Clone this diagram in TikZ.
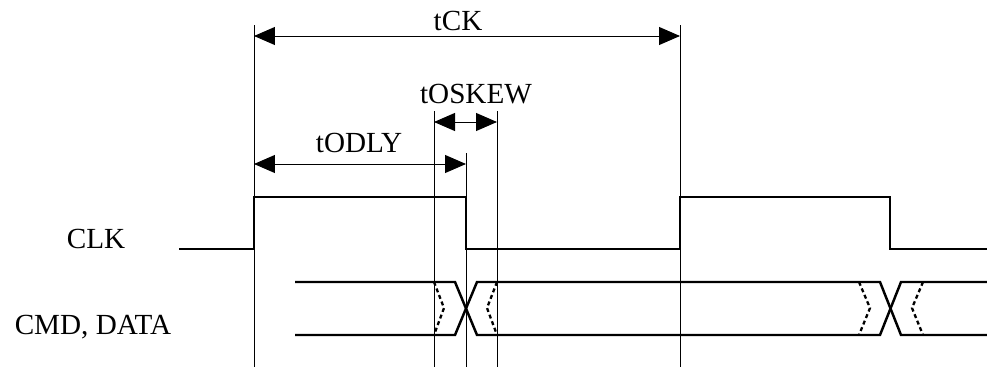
\documentclass[tikz,border=0pt]{standalone}
\usepackage{fontspec}
\setmainfont{Liberation Serif}
\usetikzlibrary{arrows.meta}

\begin{document}
\begin{tikzpicture}[x=0.02cm,y=-0.02cm,
		sig/.style={line width=1.4pt,line join=miter},
		guide/.style={line width=0.55pt},
		dim/.style={line width=0.55pt,{Triangle[length=0.42cm,width=0.36cm]}-{Triangle[length=0.42cm,width=0.36cm]}},
		skew/.style={line width=1.3pt,dash pattern=on 0.08cm off 0.06cm},
		lbl/.style={anchor=base,inner sep=0pt,font=\fontsize{16.6}{20}\selectfont}]
	\useasboundingbox (0,0) rectangle (987,372);
	%Vertical guide lines
	\foreach \name/\x/\top in {ga/254/25, gb/434/111, gc/466/153, gd/497/111, ge/680/25} {
		\coordinate (\name top) at (\x,\top);
		\coordinate (\name bot) at (\x,367);
		\draw[guide] (\name top) -- (\name bot);
	}
	%Timing arrows
	\coordinate (ck0) at (254,36);
	\coordinate (ck1) at (680,36);
	\draw[dim] (ck0) -- (ck1);
	\coordinate (sk0) at (434,122);
	\coordinate (sk1) at (497,122);
	\draw[dim] (sk0) -- (sk1);
	\coordinate (dl0) at (254,164);
	\coordinate (dl1) at (466,164);
	\draw[dim] (dl0) -- (dl1);
	%Labels
	\node[lbl] (tck) at (458,31) {tCK};
	\node[lbl] (toskew) at (476,103) {tOSKEW};
	\node[lbl] (todly) at (359,152) {tODLY};
	\node[lbl] (clk) at (96,248) {CLK};
	\node[lbl] (bus) at (93,334) {CMD, DATA};
	%The clock
	\draw[sig] (179,249) -- (254,249) -- (254,197) -- (466,197) -- (466,249)
		-- (680,249) -- (680,197) -- (890,197) -- (890,249) -- (987,249);
	%The bus
	\draw[sig] (295,282) -- (455,282) -- (477,335) -- (880,335) -- (901,282) -- (987,282);
	\draw[sig] (295,335) -- (455,335) -- (477,282) -- (880,282) -- (901,335) -- (987,335);
	%Skew window
	\draw[skew] (434,282) -- (444,308) -- (434,335);
	\draw[skew] (497,282) -- (487,308) -- (497,335);
	\draw[skew] (859,282) -- (870,308) -- (859,335);
	\draw[skew] (923,282) -- (912,308) -- (923,335);
\end{tikzpicture}
\end{document}
